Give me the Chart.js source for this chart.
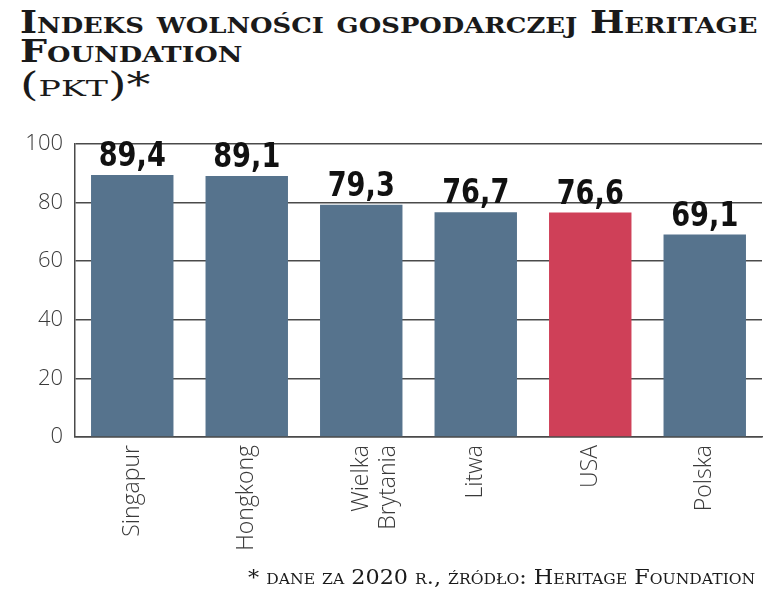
<!DOCTYPE html>
<html>
<head>
<meta charset="utf-8">
<script src="https://cdn.jsdelivr.net/npm/chart.js@4.4.0/dist/chart.umd.min.js"></script>
<style>
  html, body { margin: 0; padding: 0; background: #fff; }
  #wrap { position: relative; width: 782px; height: 593px; overflow: hidden; }
  #chart { position: absolute; left: 0; top: 0; }
  .serif {
    position: absolute; white-space: nowrap; color: #1a1a1a;
    font-family: "DejaVu Serif", serif; font-variant: small-caps;
    transform-origin: 0 0;
  }
  #t1 { left: 20px; top: 4px; font-weight: bold; font-size: 31px; }
  #t2 { left: 20px; top: 33px; font-weight: bold; font-size: 31px; }
  #unit { left: 20px; top: 65px; font-size: 33px; }
  #note { top: 565px; font-size: 20px; }
</style>
</head>
<body>
<div id="wrap">
  <span class="serif" id="t1">Indeks wolności gospodarczej Heritage</span>
  <span class="serif" id="t2">Foundation</span>
  <span class="serif" id="unit">(pkt)*</span>
  <canvas id="chart" width="782" height="593"></canvas>
  <span class="serif" id="note">* dane za 2020 r., źródło: Heritage Foundation</span>
</div>
<script>
"use strict";

// dane z wykresu
const countries = ["Singapur", "Hongkong", ["Wielka", "Brytania"], "Litwa", "USA", "Polska"];
const scores = [89.4, 89.1, 79.3, 76.7, 76.6, 69.1];
const yTicks = [0, 20, 40, 60, 80, 100];

const blue = "#56738d";
const red = "#cf4058";
const barColors = countries.map(c => c === "USA" ? red : blue);

// dopasowanie szerokości napisów (tytuł i stopka)
function fitWidth(id, left, width) {
    const el = document.getElementById(id);
    const w = el.offsetWidth;
    el.style.left = left + "px";
    el.style.transform = "scaleX(" + (width / w) + ")";
}
fitWidth("t1", 20, 737);
fitWidth("t2", 20, 222);
fitWidth("unit", 20, 130);
fitWidth("note", 248, 507);

// podpisy wartości nad słupkami
const valueLabels = {
    id: "valueLabels",
    afterDatasetsDraw(chart) {
        const ctx = chart.ctx;
        const meta = chart.getDatasetMeta(0);
        const sx = 0.8;
        ctx.save();
        ctx.font = "bold 34px 'DejaVu Sans', sans-serif";
        ctx.fillStyle = "#111";
        ctx.textAlign = "center";
        ctx.textBaseline = "alphabetic";
        meta.data.forEach((bar, i) => {
            const txt = scores[i].toFixed(1).replace(".", ",");
            ctx.save();
            ctx.translate(bar.x, bar.y - 9);
            ctx.scale(sx, 1);
            ctx.fillText(txt, 0, 0);
            ctx.restore();
        });
        ctx.restore();
    }
};

const ctx = document.getElementById("chart").getContext("2d");
const myChart = new Chart(ctx, {
    type: "bar",
    data: {
        labels: countries,
        datasets: [{
            data: scores,
            backgroundColor: barColors,
            borderWidth: 0,
            barPercentage: 0.72,
            categoryPercentage: 1.0
        }]
    },
    options: {
        responsive: false,
        animation: false,
        layout: { padding: { left: 0, right: 20, top: 144, bottom: 0 } },
        plugins: {
            legend: { display: false },
            tooltip: { enabled: false }
        },
        scales: {
            x: {
                grid: { display: false, drawTicks: false },
                border: { display: true, color: "#4a4a4a", width: 1.5 },
                ticks: {
                    color: "#3a3a3a",
                    font: { family: "'Open Sans', sans-serif", size: 23, weight: 300 },
                    minRotation: 90, maxRotation: 90,
                    padding: 8,
                    autoSkip: false
                },
                afterFit(scale) { scale.height = 593 - 437; }
            },
            y: {
                min: 0, max: 100,
                afterBuildTicks(scale) { scale.ticks = yTicks.map(v => ({ value: v })); },
                grid: { color: "#4a4a4a", lineWidth: 1.5, drawTicks: false },
                border: { display: true, color: "#4a4a4a", width: 1.5 },
                ticks: {
                    color: "#3a3a3a",
                    font: { family: "'Open Sans', sans-serif", size: 22, weight: 300 },
                    padding: 12
                },
                afterFit(scale) { scale.width = 75; }
            }
        }
    },
    plugins: [valueLabels]
});
</script>
</body>
</html>
